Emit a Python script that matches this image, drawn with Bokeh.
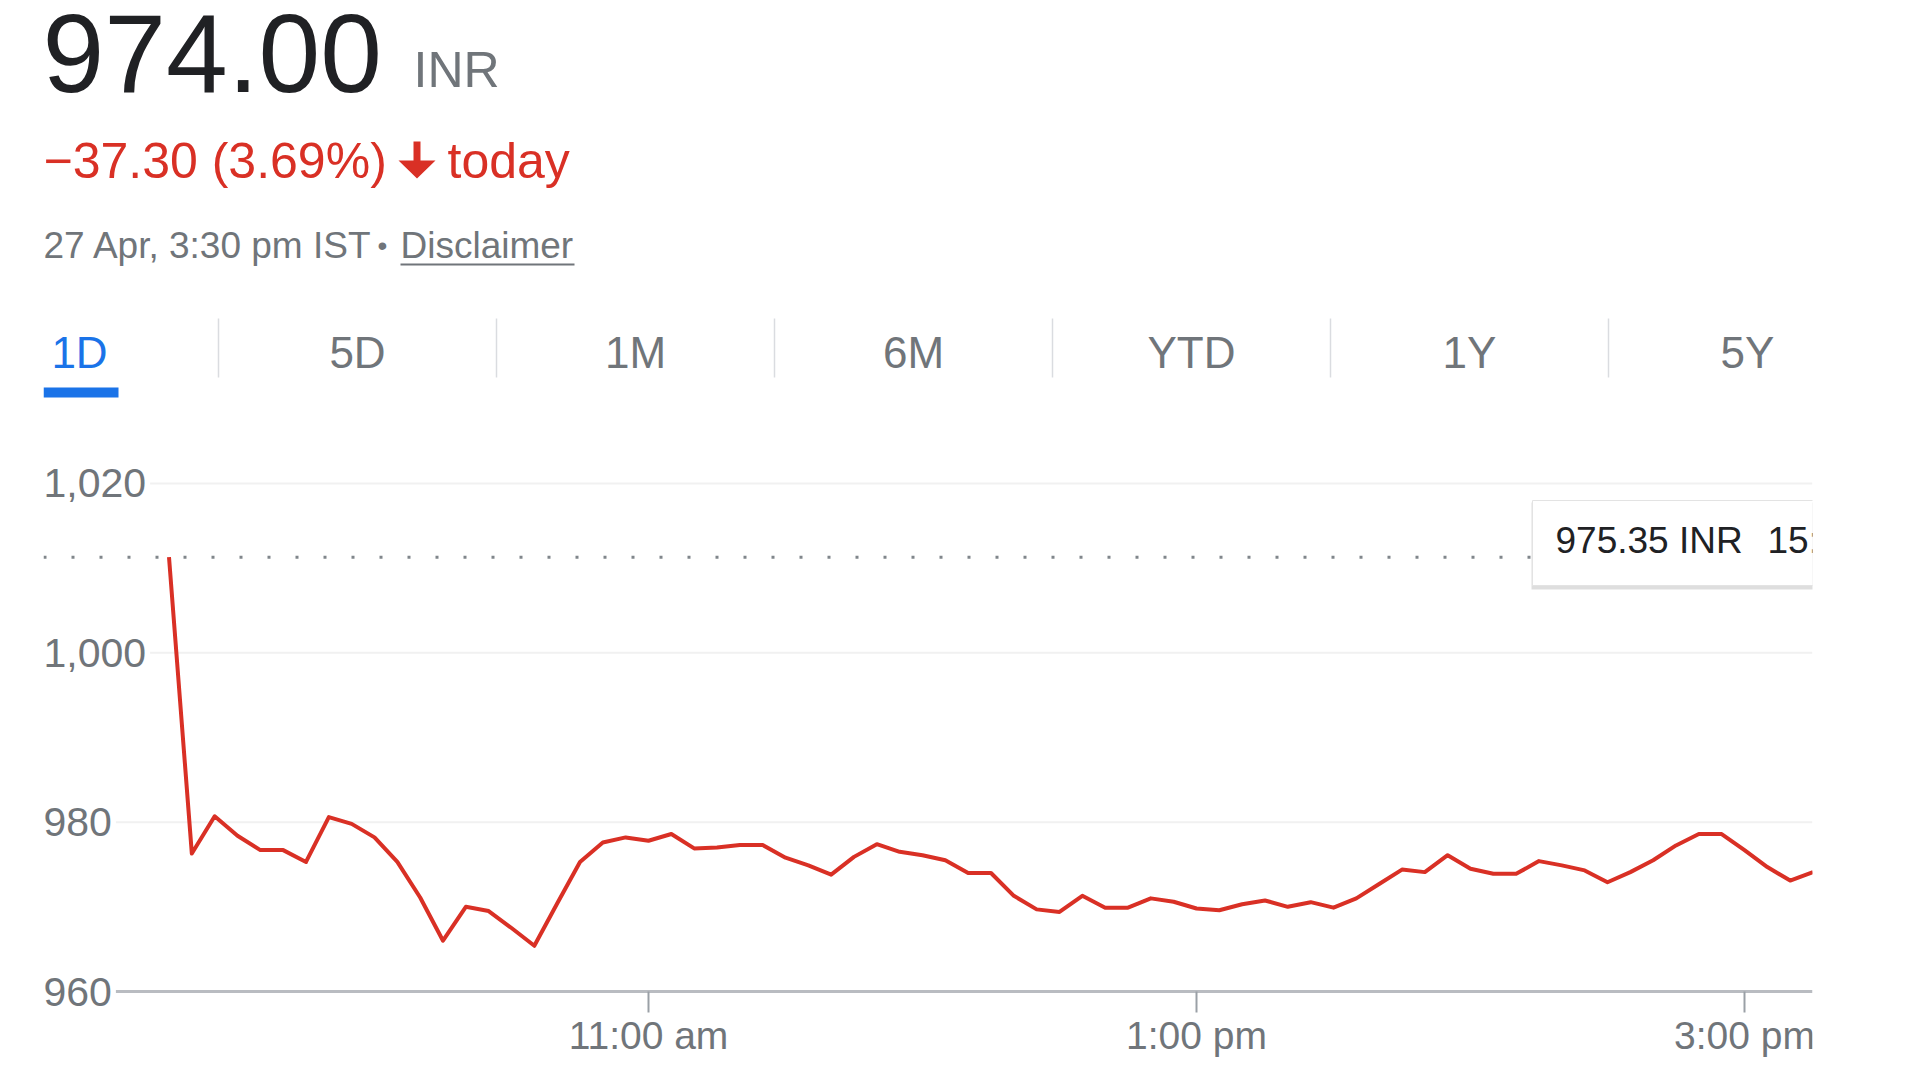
from bokeh.plotting import figure
from bokeh.models import Range1d
from bokeh.layouts import column
from bokeh.embed import file_html
from bokeh.resources import INLINE
from bokeh.core.properties import value

# ---------------- data ----------------
last_price = "974.00"
currency = "INR"
change_text = "\u221237.30 (3.69%)"
change_suffix = "today"
timestamp_text = "27 Apr, 3:30 pm IST"
bullet_text = "\u2022"
disclaimer_text = "Disclaimer"
tabs = ["1D", "5D", "1M", "6M", "YTD", "1Y", "5Y"]
active_tab = "1D"
previous_close = 1011.30
y_ticks = [960, 980, 1000, 1020]
y_tick_labels = ["960", "980", "1,000", "1,020"]
x_ticks = [11.0, 13.0, 15.0]
x_tick_labels = ["11:00 am", "1:00 pm", "3:00 pm"]
tooltip_price = "975.35 INR"
tooltip_time = "15:15"
start_hour = 9.25          # 9:15 am
step_minutes = 5
prices = [
    1011.3, 976.3, 980.7, 978.4, 976.7, 976.7, 975.3, 980.6, 979.8, 978.2,
    975.3, 971.1, 966.0, 970.0, 969.5, 967.5, 965.4, 970.4, 975.3, 977.6,
    978.2, 977.8, 978.6, 976.9, 977.0, 977.3, 977.3, 975.8, 974.9, 973.8,
    975.9, 977.4, 976.5, 976.1, 975.5, 974.0, 974.0, 971.3, 969.7, 969.4,
    971.3, 969.9, 969.9, 971.0, 970.6, 969.8, 969.6, 970.3, 970.75, 970.0,
    970.55, 969.9, 971.0, 972.7, 974.4, 974.1, 976.1, 974.5, 973.9, 973.9,
    975.4, 974.9, 974.3, 972.9, 974.1, 975.5, 977.25, 978.6, 978.6, 976.7,
    974.7, 973.1, 974.1,
]
times = [start_hour + i * step_minutes / 60.0 for i in range(len(prices))]

# ---------------- styling / layout ----------------
FONT = "Liberation Sans"
RED = "#d93025"
DARK = "#202124"
GREY = "#70757a"
BLUE = "#1a73e8"
W = 1904
FRAME_L, FRAME_R = 43, 1812
HDR_H = 420
CH_H = 650

# ================= header =================
hdr = figure(width=W, height=HDR_H, x_range=Range1d(FRAME_L, FRAME_R), y_range=Range1d(HDR_H, 0),
             output_backend="svg", toolbar_location=None,
             min_border_left=FRAME_L, min_border_right=W - FRAME_R,
             min_border_top=0, min_border_bottom=0)
hdr.axis.visible = False
hdr.grid.visible = False
hdr.outline_line_color = None

def htext(x, y, t, size, color, align="left"):
    hdr.text(x=[x], y=[y], text=[t], text_font=value(FONT), text_font_size=size,
             text_color=color, text_align=align, text_baseline="middle")

htext(42, 53, last_price, "111px", DARK)
htext(413, 69, currency, "50px", GREY)
htext(43, 160, change_text, "50px", RED)
hdr.patch(x=[413, 420, 420, 435, 416.5, 398, 413], y=[141, 141, 160, 160, 178, 160, 160],
          color=RED, line_width=0)
htext(447, 160, change_suffix, "50px", RED)
htext(43, 245, timestamp_text, "37px", GREY)
htext(382, 245, bullet_text, "28px", GREY, align="center")
htext(400, 245, disclaimer_text, "37px", GREY)
hdr.segment(x0=[400], y0=[264], x1=[574], y1=[264], line_color=GREY, line_width=2)

tab_x = [79 + 278 * i for i in range(len(tabs))]
tab_colors = [BLUE if t == active_tab else GREY for t in tabs]
hdr.text(x=tab_x, y=[352] * len(tabs), text=tabs, text_font=value(FONT),
         text_font_size="44px", text_color=tab_colors, text_align="center",
         text_baseline="middle")
sep_x = [x + 139 for x in tab_x[:-1]]
hdr.segment(x0=sep_x, y0=[318] * len(sep_x), x1=sep_x, y1=[377] * len(sep_x),
            line_color="#dadce0", line_width=1.5)
hdr.quad(left=[43], right=[118], top=[387], bottom=[397], color=BLUE, line_width=0)

# ================= chart =================
PXH = 274.0      # pixels per hour
PXU = 8.467      # pixels per rupee
REF_X_11 = 648   # page x of 11:00
REF_Y_960 = 991  # page y of 960
FRAME_T, FRAME_B = HDR_H, HDR_H + CH_H

def sx(px):  # page x -> hours
    return 11.0 + (px - REF_X_11) / PXH

def sy(py):  # page y -> price
    return 960.0 + (REF_Y_960 - py) / PXU

x0, x1 = sx(FRAME_L), sx(FRAME_R)
y0, y1 = sy(FRAME_B), sy(FRAME_T)

ch = figure(width=W, height=CH_H, x_range=Range1d(x0, x1), y_range=Range1d(y0, y1),
            output_backend="svg", toolbar_location=None,
            min_border_left=FRAME_L, min_border_right=W - FRAME_R,
            min_border_top=0, min_border_bottom=0)
ch.axis.visible = False
ch.grid.visible = False
ch.outline_line_color = None

CW = {",": .278}
LBL = 41
lbl_w = [sum(CW.get(c, .556) for c in t) * LBL for t in y_tick_labels]
grid_x0 = [x0 + (w + 4) / PXH for w in lbl_w]
grid_colors = ["#b9bcc1" if v == y_ticks[0] else "#f1f1f1" for v in y_ticks]
grid_widths = [3 if v == y_ticks[0] else 2 for v in y_ticks]
ch.segment(x0=grid_x0, y0=y_ticks, x1=[x1] * len(y_ticks), y1=y_ticks,
           line_color=grid_colors, line_width=grid_widths)
ch.text(x=[x0] * len(y_ticks), y=y_ticks, text=y_tick_labels, text_font=value(FONT),
        text_font_size=f"{LBL}px", text_color=GREY, text_align="left", text_baseline="middle")

# previous close dotted line
ch.segment(x0=[x0], y0=[previous_close], x1=[x1], y1=[previous_close],
           line_color="#80868b", line_width=3, line_dash="3 25")

# price line
ch.line(times, prices, line_color=RED, line_width=4, line_join="round")

# x ticks and labels
ch.segment(x0=x_ticks, y0=[y_ticks[0]] * len(x_ticks), x1=x_ticks,
           y1=[y_ticks[0] - 21 / PXU] * len(x_ticks), line_color="#9aa0a6", line_width=2)
ch.text(x=x_ticks, y=[sy(1035)] * len(x_ticks), text=x_tick_labels, text_font=value(FONT),
        text_font_size="39px", text_color=GREY, text_align="center", text_baseline="middle")

# hover tooltip box
tl, tr = sx(1532), sx(1900)
ch.quad(left=[tl - 1 / PXH], right=[tr], top=[sy(502)], bottom=[sy(589)],
        fill_color="#000000", fill_alpha=0.13, line_width=0)
ch.quad(left=[tl], right=[tr], top=[sy(500)], bottom=[sy(585)],
        fill_color="#ffffff", line_color="#e3e3e3", line_width=1)
ch.text(x=[sx(1555), sx(1767)], y=[sy(540)] * 2, text=[tooltip_price, tooltip_time],
        text_font=value(FONT), text_font_size="37px", text_color=DARK,
        text_align="left", text_baseline="middle")

layout = column(hdr, ch, spacing=0)
open("out.html", "w").write(file_html(layout, INLINE))
